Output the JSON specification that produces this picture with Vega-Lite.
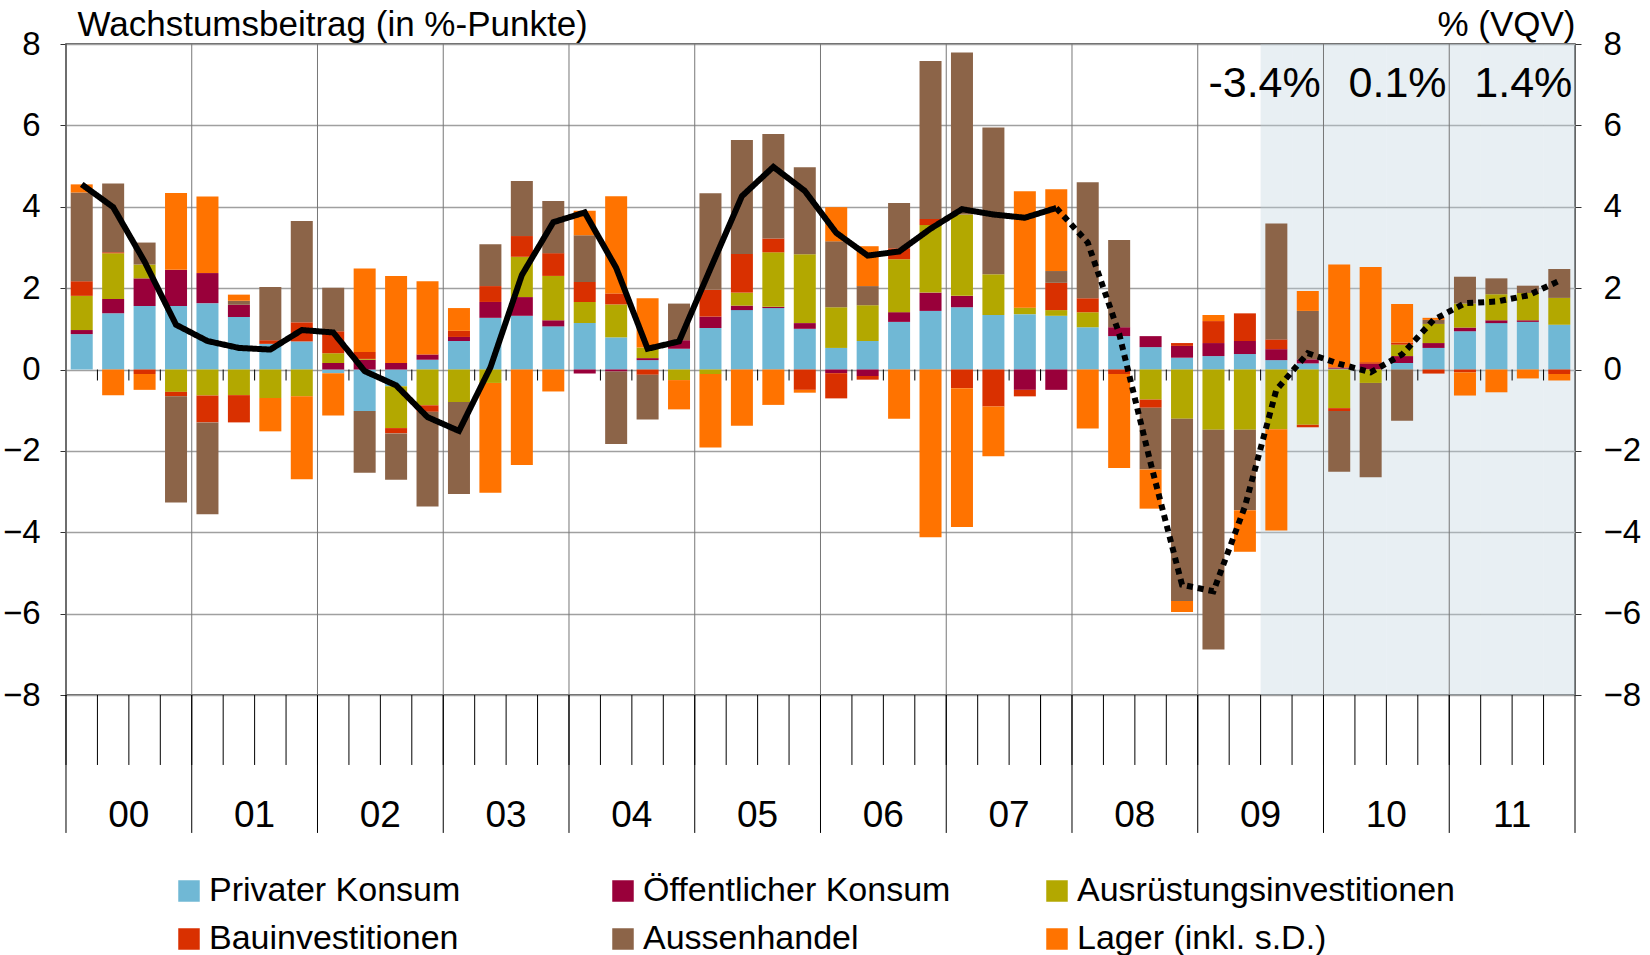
{
  "$schema": "https://vega.github.io/schema/vega-lite/v6.json",
  "width": 1509,
  "height": 651,
  "autosize": {"type": "none"},
  "padding": {"left": 66, "top": 44, "right": 75, "bottom": 260},
  "background": "white",
  "config": {
    "font": "Liberation Sans",
    "view": {"stroke": "#333333", "strokeWidth": 1.5},
    "axis": {"labelColor": "black", "titleColor": "black", "domain": false}
  },
  "datasets": {
    "bars": [
      {"q":"2000Q1","P":0.87,"O":0.10,"A":0.84,"B":0.36,"H":2.18,"L":0.20},
      {"q":"2000Q2","P":1.38,"O":0.35,"A":1.13,"B":0.02,"H":1.69,"L":-0.63},
      {"q":"2000Q3","P":1.56,"O":0.68,"A":0.34,"B":-0.11,"H":0.54,"L":-0.39},
      {"q":"2000Q4","P":1.56,"O":0.89,"A":-0.55,"B":-0.11,"H":-2.61,"L":1.89},
      {"q":"2001Q1","P":1.63,"O":0.74,"A":-0.64,"B":-0.66,"H":-2.26,"L":1.88},
      {"q":"2001Q2","P":1.29,"O":0.30,"A":-0.63,"B":-0.67,"H":0.10,"L":0.15},
      {"q":"2001Q3","P":0.63,"O":0,"A":-0.70,"B":0.09,"H":1.31,"L":-0.82},
      {"q":"2001Q4","P":0.69,"O":0,"A":-0.66,"B":0.47,"H":2.49,"L":-2.04},
      {"q":"2002Q1","P":-0.09,"O":0.16,"A":0.24,"B":0.54,"H":1.07,"L":-1.04},
      {"q":"2002Q2","P":-1.02,"O":0.24,"A":0.02,"B":0.17,"H":-1.52,"L":2.05},
      {"q":"2002Q3","P":-0.41,"O":0.16,"A":-1.03,"B":-0.13,"H":-1.14,"L":2.14},
      {"q":"2002Q4","P":0.24,"O":0.13,"A":-0.88,"B":-0.16,"H":-2.33,"L":1.80},
      {"q":"2003Q1","P":0.70,"O":0.10,"A":-0.80,"B":0.15,"H":-2.26,"L":0.56},
      {"q":"2003Q2","P":1.27,"O":0.39,"A":-0.33,"B":0.39,"H":1.03,"L":-2.70},
      {"q":"2003Q3","P":1.32,"O":0.46,"A":0.99,"B":0.51,"H":1.35,"L":-2.35},
      {"q":"2003Q4","P":1.06,"O":0.15,"A":1.09,"B":0.56,"H":1.28,"L":-0.54},
      {"q":"2004Q1","P":1.14,"O":-0.10,"A":0.52,"B":0.49,"H":1.15,"L":0.60},
      {"q":"2004Q2","P":0.79,"O":-0.05,"A":0.81,"B":0.27,"H":-1.78,"L":2.39},
      {"q":"2004Q3","P":0.23,"O":0.05,"A":0.26,"B":-0.13,"H":-1.10,"L":1.21},
      {"q":"2004Q4","P":0.51,"O":0.21,"A":-0.26,"B":0,"H":0.90,"L":-0.72},
      {"q":"2005Q1","P":1.02,"O":0.28,"A":-0.11,"B":0.66,"H":2.37,"L":-1.81},
      {"q":"2005Q2","P":1.46,"O":0.11,"A":0.32,"B":0.95,"H":2.80,"L":-1.38},
      {"q":"2005Q3","P":1.51,"O":0.03,"A":1.34,"B":0.34,"H":2.57,"L":-0.87},
      {"q":"2005Q4","P":1.00,"O":0.14,"A":1.69,"B":-0.50,"H":2.14,"L":-0.07},
      {"q":"2006Q1","P":0.53,"O":-0.09,"A":1.00,"B":-0.62,"H":1.62,"L":0.84},
      {"q":"2006Q2","P":0.70,"O":-0.16,"A":0.88,"B":-0.09,"H":0.47,"L":0.98},
      {"q":"2006Q3","P":1.17,"O":0.24,"A":1.30,"B":0.27,"H":1.11,"L":-1.21},
      {"q":"2006Q4","P":1.44,"O":0.45,"A":1.66,"B":0.15,"H":3.88,"L":-4.12},
      {"q":"2007Q1","P":1.53,"O":0.28,"A":2.00,"B":-0.46,"H":3.98,"L":-3.41},
      {"q":"2007Q2","P":1.34,"O":0,"A":1.00,"B":-0.91,"H":3.61,"L":-1.22},
      {"q":"2007Q3","P":1.36,"O":-0.50,"A":0.16,"B":-0.16,"H":0,"L":2.86},
      {"q":"2007Q4","P":1.32,"O":-0.50,"A":0.14,"B":0.67,"H":0.29,"L":2.01},
      {"q":"2008Q1","P":1.04,"O":0,"A":0.37,"B":0.34,"H":2.85,"L":-1.45},
      {"q":"2008Q2","P":0.82,"O":0.22,"A":0,"B":-0.11,"H":2.14,"L":-2.31},
      {"q":"2008Q3","P":0.55,"O":0.27,"A":-0.74,"B":-0.20,"H":-1.52,"L":-0.96},
      {"q":"2008Q4","P":0.29,"O":0.29,"A":-1.21,"B":0.07,"H":-4.48,"L":-0.27},
      {"q":"2009Q1","P":0.33,"O":0.32,"A":-1.48,"B":0.54,"H":-5.40,"L":0.15},
      {"q":"2009Q2","P":0.38,"O":0.32,"A":-1.48,"B":0.68,"H":-1.98,"L":-1.02},
      {"q":"2009Q3","P":0.23,"O":0.27,"A":-1.47,"B":0.24,"H":2.85,"L":-2.49},
      {"q":"2009Q4","P":0.15,"O":0.10,"A":-1.36,"B":-0.06,"H":1.19,"L":0.49},
      {"q":"2010Q1","P":0.02,"O":0.03,"A":-0.95,"B":-0.07,"H":-1.49,"L":2.53},
      {"q":"2010Q2","P":0,"O":0.14,"A":-0.33,"B":0.04,"H":-2.32,"L":2.34},
      {"q":"2010Q3","P":0.16,"O":0.17,"A":0.28,"B":0.05,"H":-1.26,"L":0.95},
      {"q":"2010Q4","P":0.53,"O":0.12,"A":0.47,"B":-0.10,"H":0.10,"L":0.05},
      {"q":"2011Q1","P":0.94,"O":0.09,"A":0.59,"B":-0.07,"H":0.66,"L":-0.57},
      {"q":"2011Q2","P":1.14,"O":0.07,"A":0.64,"B":0,"H":0.39,"L":-0.56},
      {"q":"2011Q3","P":1.17,"O":0.04,"A":0.67,"B":0,"H":0.18,"L":-0.22},
      {"q":"2011Q4","P":1.10,"O":0,"A":0.66,"B":-0.11,"H":0.71,"L":-0.16}
    ],
    "line": [
      {"q":"2000Q1","g":4.55,"t":"Ist"},{"q":"2000Q2","g":3.99,"t":"Ist"},{"q":"2000Q3","g":2.65,"t":"Ist"},{"q":"2000Q4","g":1.10,"t":"Ist"},
      {"q":"2001Q1","g":0.70,"t":"Ist"},{"q":"2001Q2","g":0.53,"t":"Ist"},{"q":"2001Q3","g":0.49,"t":"Ist"},{"q":"2001Q4","g":0.97,"t":"Ist"},
      {"q":"2002Q1","g":0.91,"t":"Ist"},{"q":"2002Q2","g":-0.04,"t":"Ist"},{"q":"2002Q3","g":-0.39,"t":"Ist"},{"q":"2002Q4","g":-1.17,"t":"Ist"},
      {"q":"2003Q1","g":-1.51,"t":"Ist"},{"q":"2003Q2","g":0.05,"t":"Ist"},{"q":"2003Q3","g":2.32,"t":"Ist"},{"q":"2003Q4","g":3.62,"t":"Ist"},
      {"q":"2004Q1","g":3.86,"t":"Ist"},{"q":"2004Q2","g":2.50,"t":"Ist"},{"q":"2004Q3","g":0.51,"t":"Ist"},{"q":"2004Q4","g":0.69,"t":"Ist"},
      {"q":"2005Q1","g":2.48,"t":"Ist"},{"q":"2005Q2","g":4.26,"t":"Ist"},{"q":"2005Q3","g":4.98,"t":"Ist"},{"q":"2005Q4","g":4.39,"t":"Ist"},
      {"q":"2006Q1","g":3.36,"t":"Ist"},{"q":"2006Q2","g":2.80,"t":"Ist"},{"q":"2006Q3","g":2.90,"t":"Ist"},{"q":"2006Q4","g":3.46,"t":"Ist"},
      {"q":"2007Q1","g":3.94,"t":"Ist"},{"q":"2007Q2","g":3.81,"t":"Ist"},{"q":"2007Q3","g":3.73,"t":"Ist"},{"q":"2007Q4","g":3.97,"t":"Ist"},
      {"q":"2007Q4","g":3.97,"t":"Prognose"},
      {"q":"2008Q1","g":3.12,"t":"Prognose"},{"q":"2008Q2","g":0.88,"t":"Prognose"},{"q":"2008Q3","g":-2.30,"t":"Prognose"},{"q":"2008Q4","g":-5.29,"t":"Prognose"},
      {"q":"2009Q1","g":-5.45,"t":"Prognose"},{"q":"2009Q2","g":-3.37,"t":"Prognose"},{"q":"2009Q3","g":-0.50,"t":"Prognose"},{"q":"2009Q4","g":0.40,"t":"Prognose"},
      {"q":"2010Q1","g":0.14,"t":"Prognose"},{"q":"2010Q2","g":-0.07,"t":"Prognose"},{"q":"2010Q3","g":0.37,"t":"Prognose"},{"q":"2010Q4","g":1.22,"t":"Prognose"},
      {"q":"2011Q1","g":1.63,"t":"Prognose"},{"q":"2011Q2","g":1.67,"t":"Prognose"},{"q":"2011Q3","g":1.82,"t":"Prognose"},{"q":"2011Q4","g":2.18,"t":"Prognose"}
    ],
    "years": [
      {"q":"2000Q3","label":"00"},{"q":"2001Q3","label":"01"},{"q":"2002Q3","label":"02"},{"q":"2003Q3","label":"03"},
      {"q":"2004Q3","label":"04"},{"q":"2005Q3","label":"05"},{"q":"2006Q3","label":"06"},{"q":"2007Q3","label":"07"},
      {"q":"2008Q3","label":"08"},{"q":"2009Q3","label":"09"},{"q":"2010Q3","label":"10"},{"q":"2011Q3","label":"11"}
    ],
    "ann": [
      {"q":"2009Q4","label":"-3.4%"},
      {"q":"2010Q4","label":"0.1%"},
      {"q":"2011Q4","label":"1.4%"}
    ]
  },
  "layer": [
    {
      "data": {"name": "line"},
      "transform": [{"filter": "datum.q >= '2009Q3'"}],
      "mark": {"type": "bar", "color": "#BDD1DD", "opacity": 0.35, "width": 31.44},
      "encoding": {
        "x": {"field": "q", "type": "ordinal", "axis": null},
        "y": {"datum": 8, "type": "quantitative", "scale": {"domain": [-8, 8], "nice": false, "zero": false}, "axis": null},
        "y2": {"datum": -8}
      }
    },
    {
      "data": {"name": "line"},
      "transform": [{"filter": "indexof(datum.q,'Q1')>0"}],
      "mark": {"type": "rule", "color": "#777777", "strokeWidth": 1, "xOffset": -15.72},
      "encoding": {
        "x": {"field": "q", "type": "ordinal", "axis": null},
        "y": {"datum": 8, "type": "quantitative", "scale": {"domain": [-8, 8], "nice": false, "zero": false}, "axis": null},
        "y2": {"datum": -8}
      }
    },
    {
      "data": {"name": "bars"},
      "transform": [
        {"fold": ["P", "O", "A", "B", "H", "L"], "as": ["key", "v"]},
        {"lookup": "key", "from": {"data": {"values": [
          {"key": "P", "c": "Privater Konsum", "k": 1},
          {"key": "O", "c": "Öffentlicher Konsum", "k": 2},
          {"key": "A", "c": "Ausrüstungsinvestitionen", "k": 3},
          {"key": "B", "c": "Bauinvestitionen", "k": 4},
          {"key": "H", "c": "Aussenhandel", "k": 5},
          {"key": "L", "c": "Lager (inkl. s.D.)", "k": 6}
        ]}, "key": "key", "fields": ["c", "k"]}}
      ],
      "mark": {"type": "bar"},
      "encoding": {
        "x": {"field": "q", "type": "ordinal", "scale": {"paddingInner": 0.3, "paddingOuter": 0.15}, "axis": null},
        "y": {
          "field": "v", "type": "quantitative", "stack": "zero",
          "scale": {"domain": [-8, 8], "nice": false, "zero": false},
          "axis": {
            "orient": "left", "values": [-8, -6, -4, -2, 0, 2, 4, 6, 8],
            "grid": true, "gridColor": "#a0a0a0", "gridWidth": 1.5,
            "tickSize": 6, "tickColor": "#333333", "domain": false,
            "labelFontSize": 33, "labelPadding": 20, "labelColor": "black",
            "title": "Wachstumsbeitrag (in %-Punkte)", "titleAngle": 0, "titleAlign": "left",
            "titleBaseline": "alphabetic", "titleX": 11, "titleY": -9, "titleFontSize": 35,
            "titleFontWeight": "normal", "titleColor": "black"
          }
        },
        "color": {
          "field": "c", "type": "nominal",
          "scale": {
            "domain": ["Privater Konsum", "Öffentlicher Konsum", "Ausrüstungsinvestitionen", "Bauinvestitionen", "Aussenhandel", "Lager (inkl. s.D.)"],
            "range": ["#70B8D5", "#99003A", "#B3A800", "#D93000", "#8C6448", "#FF7300"]
          },
          "legend": {
            "orient": "none", "legendX": 106, "legendY": 830, "direction": "horizontal", "columns": 3,
            "gridAlign": "all", "columnPadding": 18, "rowPadding": 14, "padding": 0,
            "symbolType": "square", "symbolSize": 462, "symbolStrokeWidth": 0,
            "labelFontSize": 34, "labelOffset": 3, "labelLimit": 0, "labelColor": "black", "title": null
          }
        },
        "order": {"field": "k", "type": "quantitative", "sort": "ascending"}
      }
    },
    {
      "data": {"name": "line"},
      "transform": [{"filter": "indexof(datum.q,'Q1')<0"}],
      "mark": {"type": "rule", "color": "black", "strokeWidth": 1, "xOffset": -15.72},
      "encoding": {
        "x": {"field": "q", "type": "ordinal", "axis": null},
        "y": {"datum": 0, "type": "quantitative", "scale": {"domain": [-8, 8], "nice": false, "zero": false}, "axis": null},
        "y2": {"datum": -0.27}
      }
    },
    {
      "data": {"name": "line"},
      "mark": {"type": "rule", "color": "black", "strokeWidth": 1, "xOffset": -15.72},
      "encoding": {
        "x": {"field": "q", "type": "ordinal", "axis": null},
        "y": {"datum": -8, "type": "quantitative", "scale": {"domain": [-8, 8], "nice": false, "zero": false}, "axis": null},
        "y2": {"datum": -9.72}
      }
    },
    {
      "data": {"name": "line"},
      "transform": [{"filter": "indexof(datum.q,'Q1')>0"}],
      "mark": {"type": "rule", "color": "black", "strokeWidth": 1, "xOffset": -15.72},
      "encoding": {
        "x": {"field": "q", "type": "ordinal", "axis": null},
        "y": {"datum": -8, "type": "quantitative", "scale": {"domain": [-8, 8], "nice": false, "zero": false}, "axis": null},
        "y2": {"datum": -11.39}
      }
    },
    {
      "data": {"name": "line"},
      "transform": [{"filter": "datum.q == '2011Q4'"}],
      "mark": {"type": "rule", "color": "black", "strokeWidth": 1, "xOffset": 15.72},
      "encoding": {
        "x": {"field": "q", "type": "ordinal", "axis": null},
        "y": {"datum": -8, "type": "quantitative", "scale": {"domain": [-8, 8], "nice": false, "zero": false}, "axis": null},
        "y2": {"datum": -11.39}
      }
    },
    {
      "data": {"name": "years"},
      "mark": {"type": "text", "align": "center", "baseline": "middle", "dx": -15.72, "fontSize": 37, "color": "black"},
      "encoding": {
        "x": {"field": "q", "type": "ordinal", "axis": null},
        "y": {"datum": -10.98, "type": "quantitative", "scale": {"domain": [-8, 8], "nice": false, "zero": false}, "axis": null},
        "text": {"field": "label"}
      }
    },
    {
      "data": {"name": "line"},
      "mark": {"type": "line", "color": "black", "strokeWidth": 6, "strokeCap": "butt"},
      "encoding": {
        "x": {"field": "q", "type": "ordinal", "axis": null},
        "y": {
          "field": "g", "type": "quantitative",
          "scale": {"domain": [-8, 8], "nice": false, "zero": false},
          "axis": {
            "orient": "right", "values": [-8, -6, -4, -2, 0, 2, 4, 6, 8], "grid": false,
            "tickSize": 6, "tickColor": "#333333", "domain": false,
            "labelFontSize": 33, "labelPadding": 22, "labelColor": "black",
            "title": "% (VQV)", "titleAngle": 0, "titleAlign": "right", "titleBaseline": "alphabetic",
            "titleX": 0, "titleY": -9, "titleFontSize": 35, "titleFontWeight": "normal", "titleColor": "black"
          }
        },
        "strokeDash": {
          "field": "t", "type": "nominal",
          "scale": {"domain": ["Ist", "Prognose"], "range": [[1, 0], [6, 5]]},
          "legend": null
        }
      }
    },
    {
      "data": {"name": "ann"},
      "mark": {"type": "text", "align": "right", "baseline": "middle", "dx": 13, "fontSize": 43, "color": "black"},
      "encoding": {
        "x": {"field": "q", "type": "ordinal", "axis": null},
        "y": {"datum": 7.02, "type": "quantitative", "scale": {"domain": [-8, 8], "nice": false, "zero": false}, "axis": null},
        "text": {"field": "label"}
      }
    }
  ],
  "resolve": {"axis": {"y": "independent"}}
}
